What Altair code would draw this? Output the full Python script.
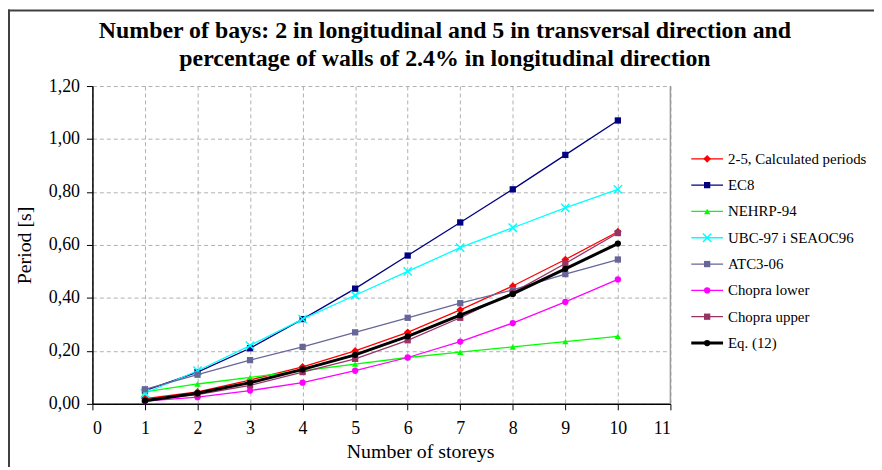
import altair as alt
import pandas as pd

storeys = [1, 2, 3, 4, 5, 6, 7, 8, 9, 10]
series_names = ["2-5, Calculated  periods", "EC8", "NEHRP-94", "UBC-97 i SEAOC96",
                "ATC3-06", "Chopra lower", "Chopra upper", "Eq. (12)"]
calc = [0.020, 0.045, 0.090, 0.140, 0.200, 0.270, 0.355, 0.445, 0.545, 0.650]
ec8 = [0.050, 0.120, 0.210, 0.320, 0.435, 0.560, 0.685, 0.810, 0.940, 1.070]
nehrp = [0.045, 0.075, 0.100, 0.125, 0.150, 0.175, 0.195, 0.215, 0.235, 0.255]
ubc = [0.040, 0.125, 0.220, 0.320, 0.410, 0.500, 0.590, 0.665, 0.740, 0.810]
atc = [0.055, 0.110, 0.165, 0.215, 0.270, 0.325, 0.380, 0.430, 0.490, 0.545]
chopra_low = [0.010, 0.025, 0.050, 0.080, 0.125, 0.175, 0.235, 0.305, 0.385, 0.470]
chopra_up = [0.015, 0.035, 0.070, 0.120, 0.170, 0.240, 0.325, 0.420, 0.530, 0.645]
eq12 = [0.012, 0.040, 0.080, 0.130, 0.185, 0.255, 0.335, 0.415, 0.510, 0.605]
values = [calc, ec8, nehrp, ubc, atc, chopra_low, chopra_up, eq12]
title_lines = ["Number of bays: 2 in longitudinal and 5 in transversal direction and",
               "percentage of walls of 2.4% in longitudinal direction"]

colors = ["#FF0000", "#000080", "#00FF00", "#00FFFF", "#666699", "#FF00FF", "#993366", "#000000"]
shapes = ["diamond", "square", "triangle-up", "M-1,-1L1,1M-1,1L1,-1", "square", "circle", "square", "circle"]
filled = [True, True, True, False, True, True, True, True]
widths = [1.3, 1.3, 1.3, 1.3, 1.3, 1.3, 1.3, 3.0]
sizes = [60, 40, 40, 70, 40, 40, 40, 40]

rows = []
for name, vals in zip(series_names, values):
    for s, v in zip(storeys, vals):
        rows.append({"series": name, "x": s, "y": v})
df = pd.DataFrame(rows)
leg_df = pd.DataFrame({"series": series_names})
title_df = pd.DataFrame({"line1": [title_lines[0]], "line2": [title_lines[1]]})

FONT = "Liberation Serif"

xenc = alt.X("x:Q", scale=alt.Scale(domain=[0, 11], nice=False),
             axis=alt.Axis(values=list(range(0, 12)), title="Number of storeys",
                           titleX=330, titleY=48, titleBaseline="middle",
                           titleFontWeight="normal", labelPadding=10))
yenc = alt.Y("y:Q", scale=alt.Scale(domain=[0, 1.2], nice=False),
             axis=alt.Axis(values=[0, 0.2, 0.4, 0.6, 0.8, 1.0, 1.2], title="Period [s]",
                           labelExpr="replace(format(datum.value, '.2f'), '.', ',')",
                           titleX=-68, titleY=160, titleBaseline="middle",
                           titleFontWeight="normal", titleAngle=-90, labelPadding=7))

layers = []
# right border of the plot area
layers.append(alt.Chart(pd.DataFrame({"x": [11]})).mark_rule(color="#999999", strokeWidth=1.5)
              .encode(x=alt.X("x:Q", scale=alt.Scale(domain=[0, 11], nice=False))))
for i, name in enumerate(series_names):
    base = alt.Chart(df).transform_filter(alt.datum.series == name)
    layers.append(base.mark_line(color=colors[i], strokeWidth=widths[i]).encode(x=xenc, y=yenc))
    layers.append(base.mark_point(color=colors[i], shape=shapes[i], filled=filled[i],
                                  size=sizes[i], opacity=1,
                                  strokeWidth=1.5 if not filled[i] else 1)
                  .encode(x=xenc, y=yenc))
main = alt.layer(*layers)

# outer chart frame (left and top edges visible in the reference) and title
frame = alt.layer(
    alt.Chart(pd.DataFrame({"a": [0]})).mark_rule(color="#404040", strokeWidth=2)
    .encode(x=alt.value(-84), y=alt.value(-77), y2=alt.value(390)),
    alt.Chart(pd.DataFrame({"a": [0]})).mark_rule(color="#404040", strokeWidth=2)
    .encode(x=alt.value(-85), x2=alt.value(800), y=alt.value(-76)),
    alt.Chart(title_df).mark_text(font=FONT, fontSize=24, fontWeight="bold", color="black",
                                  align="center", baseline="middle")
    .encode(x=alt.value(355), y=alt.value(-55), text="line1:N"),
    alt.Chart(title_df).mark_text(font=FONT, fontSize=24, fontWeight="bold", color="black",
                                  align="center", baseline="middle")
    .encode(x=alt.value(355), y=alt.value(-27), text="line2:N"),
)

yleg = alt.Y("series:N", scale=alt.Scale(type="point", domain=series_names, range=[60, 272]), axis=None)
leg_layers = []
for i, name in enumerate(series_names):
    lb = alt.Chart(leg_df).transform_filter(alt.datum.series == name)
    leg_layers.append(lb.mark_rule(color=colors[i], strokeWidth=widths[i])
                      .encode(x=alt.value(603), x2=alt.value(635), y=yleg))
    leg_layers.append(lb.mark_point(color=colors[i], shape=shapes[i], filled=filled[i],
                                    size=sizes[i], opacity=1,
                                    strokeWidth=1.5 if not filled[i] else 1)
                      .encode(x=alt.value(619), y=yleg))
    leg_layers.append(lb.mark_text(align="left", baseline="middle", font=FONT, fontSize=15, color="black")
                      .encode(x=alt.value(640), y=yleg, text="series:N"))
legend = alt.layer(*leg_layers)

chart = alt.layer(main, frame, legend).resolve_scale(y="independent").properties(
    width=582, height=320,
    autosize=alt.AutoSizeParams(type="none"),
    padding={"left": 85, "top": 77, "right": 205, "bottom": 62},
).configure_view(stroke=None).configure_axis(
    labelFont=FONT, titleFont=FONT, labelFontSize=18, titleFontSize=20,
    labelColor="black", titleColor="black",
    domainColor="black", domainWidth=1.5, tickColor="black", tickSize=6,
    gridColor="#b0b0b0", gridDash=[4, 3], gridWidth=1,
)

chart.save("out.html", embed_options={"renderer": "svg", "actions": False})
